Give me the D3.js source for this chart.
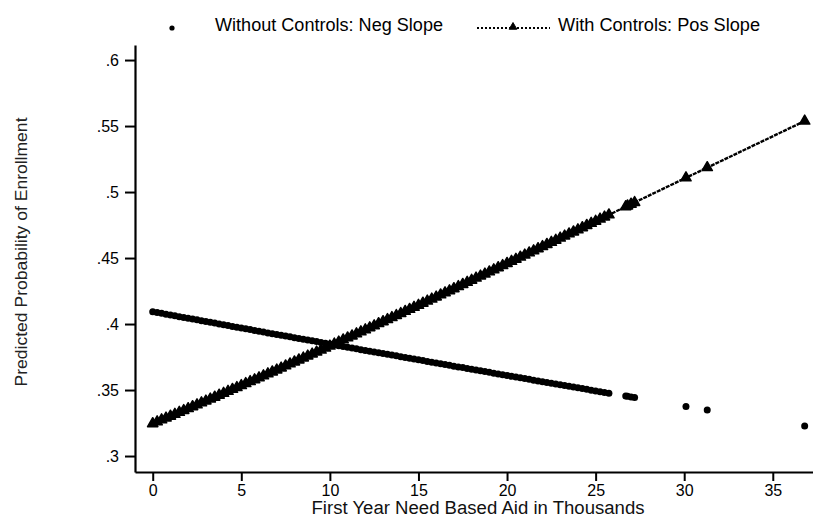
<!DOCTYPE html>
<html>
<head>
<meta charset="utf-8">
<script src="https://cdn.jsdelivr.net/npm/d3@7"></script>
<style>
  html, body { margin: 0; padding: 0; background: #fff; }
  svg { display: block; font-family: "Liberation Sans", Arial, Helvetica, sans-serif; }
</style>
</head>
<body>
<svg id="chart" width="813" height="517"></svg>
<script>
// ---- Data ----
const aid = [
  0,0.25,0.5,0.75,1,1.25,1.5,1.75,2,2.25,2.5,2.75,3,3.25,3.5,3.75,4,4.25,4.5,4.75,
  5,5.25,5.5,5.75,6,6.25,6.5,6.75,7,7.25,7.5,7.75,8,8.25,8.5,8.75,9,9.25,9.5,9.75,
  10,10.25,10.5,10.75,11,11.25,11.5,11.75,12,12.25,12.5,12.75,13,13.25,13.5,13.75,
  14,14.25,14.5,14.75,15,15.25,15.5,15.75,16,16.25,16.5,16.75,17,17.25,17.5,17.75,
  18,18.25,18.5,18.75,19,19.25,19.5,19.75,20,20.25,20.5,20.75,21,21.25,21.5,21.75,
  22,22.25,22.5,22.75,23,23.25,23.5,23.75,24,24.25,24.5,24.75,25,25.25,25.5,25.75,
  26.7,26.8,27.0,27.2,30.1,31.3,36.8
];
// Without controls: negative slope
const probNoControls = [
  .4093,.4087,.4081,.4074,.4068,.4062,.4056,.4050,.4044,.4038,.4032,.4025,
  .4019,.4013,.4007,.4000,.3994,.3988,.3982,.3976,.3970,.3964,.3958,.3951,
  .3945,.3939,.3933,.3927,.3921,.3915,.3909,.3903,.3897,.3891,.3885,.3879,
  .3873,.3867,.3861,.3854,.3848,.3842,.3836,.3830,.3824,.3818,.3812,.3806,
  .3800,.3794,.3789,.3783,.3777,.3771,.3765,.3759,.3753,.3747,.3741,.3735,
  .3729,.3723,.3717,.3711,.3705,.3699,.3693,.3687,.3681,.3675,.3670,.3664,
  .3658,.3652,.3646,.3640,.3634,.3628,.3622,.3616,.3610,.3604,.3599,.3593,
  .3587,.3581,.3575,.3569,.3563,.3557,.3552,.3546,.3540,.3534,.3529,.3523,
  .3517,.3511,.3505,.3499,.3493,.3487,.3482,.3476,
  .3454,.3452,.3447,.3443,.3376,.3349,.3227
];
// With controls: positive slope
const probControls = [
  .3245,.3259,.3274,.3288,.3302,.3316,.3331,.3345,.3359,.3374,.3388,.3403,
  .3417,.3432,.3446,.3461,.3475,.3490,.3505,.3519,.3534,.3549,.3564,.3578,
  .3593,.3608,.3623,.3637,.3652,.3667,.3683,.3698,.3713,.3728,.3743,.3758,
  .3773,.3788,.3803,.3818,.3833,.3849,.3864,.3880,.3895,.3910,.3926,.3941,
  .3956,.3972,.3987,.4003,.4018,.4034,.4049,.4065,.4080,.4096,.4111,.4127,
  .4142,.4158,.4174,.4189,.4205,.4221,.4237,.4252,.4268,.4284,.4300,.4316,
  .4332,.4348,.4364,.4379,.4395,.4411,.4427,.4443,.4459,.4475,.4491,.4507,
  .4523,.4539,.4555,.4571,.4587,.4603,.4619,.4635,.4651,.4667,.4683,.4698,
  .4714,.4730,.4747,.4763,.4779,.4795,.4811,.4827,
  .4889,.4895,.4908,.4921,.5108,.5185,.5538
];
const xTicks = [0, 5, 10, 15, 20, 25, 30, 35];
const yTicks = [.3, .35, .4, .45, .5, .55, .6];
const yTickLabels = [".3", ".35", ".4", ".45", ".5", ".55", ".6"];
const legendLabels = ["Without Controls: Neg Slope", "With Controls: Pos Slope"];
const xTitle = "First Year Need Based Aid in Thousands";
const yTitle = "Predicted Probability of Enrollment";

// ---- Layout ----
const svg = d3.select("#chart");
const x = d3.scaleLinear().domain([-1.0, 37.27]).range([135, 813]);
const y = d3.scaleLinear().domain([0.2879, 0.6114]).range([472, 45]);

const rows = aid.map((a, i) => ({ a, n: probNoControls[i], c: probControls[i] }));

// Axes
const yAxis = d3.axisLeft(y).tickValues(yTicks)
  .tickFormat((d, i) => yTickLabels[i]).tickSize(10).tickSizeOuter(0).tickPadding(6);
const xAxis = d3.axisBottom(x).tickValues(xTicks)
  .tickFormat(d => String(d)).tickSize(9).tickSizeOuter(0).tickPadding(4);

const gy = svg.append("g").attr("transform", "translate(135,0)").call(yAxis);
const gx = svg.append("g").attr("transform", "translate(0,472)").call(xAxis);
[gy, gx].forEach(g => {
  g.select(".domain").attr("stroke", "#000").attr("stroke-width", 2.2);
  g.selectAll(".tick line").attr("stroke", "#000").attr("stroke-width", 2);
  g.selectAll(".tick text").attr("fill", "#000").attr("font-size", 16)
    .attr("font-family", "'Liberation Sans', Arial, sans-serif");
});

// Axis titles
svg.append("text")
  .attr("x", 478).attr("y", 514).attr("text-anchor", "middle")
  .attr("font-size", 18).attr("fill", "#111")
  .attr("textLength", 333).attr("lengthAdjust", "spacingAndGlyphs")
  .text(xTitle);
svg.append("text")
  .attr("transform", "translate(27,252) rotate(-90)")
  .attr("text-anchor", "middle")
  .attr("font-size", 17).attr("fill", "#222")
  .attr("textLength", 269).attr("lengthAdjust", "spacingAndGlyphs")
  .text(yTitle);

// Series 1: without controls (dots)
svg.append("g").selectAll("circle").data(rows).join("circle")
  .attr("cx", d => x(d.a)).attr("cy", d => y(d.n))
  .attr("r", 3.5).attr("fill", "#000");

// Series 2: with controls (connected line + triangles)
const line = d3.line().x(d => x(d.a)).y(d => y(d.c));
svg.append("path").datum(rows)
  .attr("d", line).attr("fill", "none")
  .attr("stroke", "#000").attr("stroke-width", 2.4)
  .attr("stroke-dasharray", "4,1");
const tri = d3.symbol().type(d3.symbolTriangle).size(46);
svg.append("g").selectAll("path").data(rows).join("path")
  .attr("d", tri)
  .attr("transform", d => `translate(${x(d.a)},${y(d.c)})`)
  .attr("fill", "#000").attr("stroke", "#000").attr("stroke-width", 1.5)
  .attr("stroke-linejoin", "round");

// Legend
const lg = svg.append("g");
lg.append("circle").attr("cx", 172).attr("cy", 28).attr("r", 2.6).attr("fill", "#000");
lg.append("text").attr("x", 215).attr("y", 31).attr("font-size", 18).attr("fill", "#000")
  .attr("textLength", 228).attr("lengthAdjust", "spacingAndGlyphs")
  .text(legendLabels[0]);
lg.append("line").attr("x1", 477).attr("x2", 550).attr("y1", 28).attr("y2", 28)
  .attr("stroke", "#000").attr("stroke-width", 2).attr("stroke-dasharray", "2,2");
lg.append("path").attr("d", d3.symbol().type(d3.symbolTriangle).size(26))
  .attr("transform", "translate(513,27)").attr("fill", "#000").attr("stroke", "#000");
lg.append("text").attr("x", 558).attr("y", 31).attr("font-size", 18).attr("fill", "#000")
  .attr("textLength", 202).attr("lengthAdjust", "spacingAndGlyphs")
  .text(legendLabels[1]);
</script>
</body>
</html>
